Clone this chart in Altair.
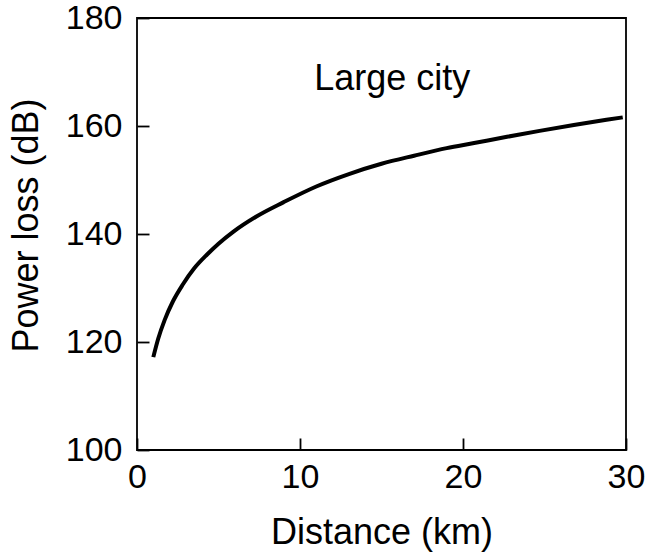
import altair as alt
import pandas as pd

# Values
distance_km = [1.0, 1.3, 1.7, 2.2, 2.8, 3.5, 4.3, 5.0, 5.9, 7.3, 9.0, 11.0,
               13.0, 15.0, 17.0, 19.0, 20.6, 22.7, 24.7, 26.8, 28.8, 29.8]
power_loss_db = [117.2, 120.6, 124.1, 127.5, 130.6, 133.6, 136.2, 138.2, 140.4,
                 143.2, 145.9, 148.8, 151.1, 153.0, 154.5, 155.9, 156.8, 158.0,
                 159.1, 160.2, 161.15, 161.6]

x_ticks = [0, 10, 20, 30]
y_ticks = [100, 120, 140, 160, 180]

label_text = ["Large city"]
label_x = [15.66]
label_y = [166.7]

FONT = "Liberation Sans"

curve = pd.DataFrame({"d": distance_km, "loss": power_loss_db})
note = pd.DataFrame({"text": label_text, "x": label_x, "y": label_y})

x_scale = alt.Scale(domain=[0, 30], nice=False, zero=False)
y_scale = alt.Scale(domain=[100, 180], nice=False, zero=False)

line = alt.Chart(curve).mark_line(
    color="black", strokeWidth=4, interpolate="monotone"
).encode(
    x=alt.X("d:Q", scale=x_scale, title="Distance (km)",
            axis=alt.Axis(values=x_ticks, offset=-12, tickSize=12, domain=False,
                          grid=False, labelPadding=10, labelFontSize=34,
                          labelFont=FONT, labelColor="black", tickColor="black",
                          tickWidth=1.8, titleFontSize=36, titleFont=FONT,
                          titleFontWeight="normal", titleColor="black",
                          titleBaseline="alphabetic", titleY=105,
                          labelFlush=False)),
    y=alt.Y("loss:Q", scale=y_scale, title="Power loss (dB)",
            axis=alt.Axis(values=y_ticks, offset=-12, tickSize=12, domain=False,
                          grid=False, labelPadding=15, labelFontSize=34,
                          labelFont=FONT, labelColor="black", tickColor="black",
                          tickWidth=1.8, titleFontSize=36, titleFont=FONT,
                          titleFontWeight="normal", titleColor="black",
                          titleBaseline="alphabetic", titleX=-112, titleY=207,
                          labelFlush=False)),
)

text = alt.Chart(note).mark_text(
    font=FONT, fontSize=36, color="black", align="center", baseline="alphabetic"
).encode(
    x=alt.X("x:Q", scale=x_scale),
    y=alt.Y("y:Q", scale=y_scale),
    text="text:N",
)

chart = alt.layer(line, text).properties(
    width=489,
    height=432,
    autosize="none",
    padding={"left": 137, "top": 18, "right": 20, "bottom": 106},
    background="white",
).configure_view(
    stroke="black", strokeWidth=1.8
)

chart.save("out.html", embed_options={"renderer": "svg", "actions": False})
